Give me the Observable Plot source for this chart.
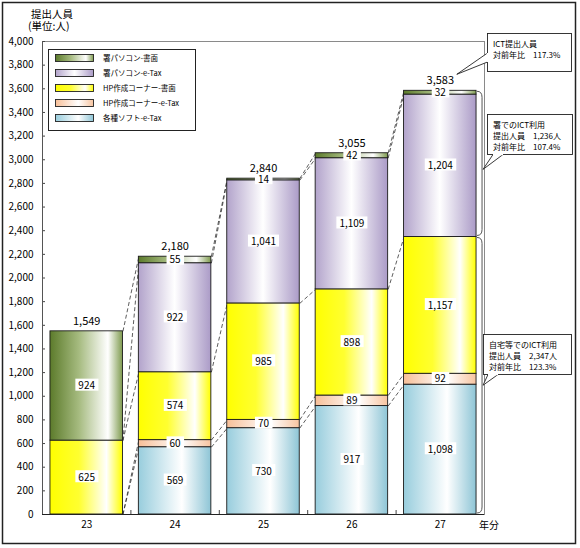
<!DOCTYPE html>
<html><head><meta charset="utf-8">
<script src="https://cdn.jsdelivr.net/npm/d3@7"></script>
<script src="https://cdn.jsdelivr.net/npm/@observablehq/plot@0.6"></script>
<style>
body{margin:0;background:#fff;}
#chart svg{display:block;}
</style></head><body><div id="chart"></div>
<script>
// ---- data ----
const years = [23, 24, 25, 26, 27];
const seriesNames = ["各種ソフト-e-Tax", "HP作成コーナー-e-Tax", "HP作成コーナー-書面", "署パソコン-e-Tax", "署パソコン-書面"];
const softETax  = [0, 569, 730, 917, 1098];
const hpETax    = [0, 60, 70, 89, 92];
const hpShomen  = [625, 574, 985, 898, 1157];
const shoETax   = [0, 922, 1041, 1109, 1204];
const shoShomen = [924, 55, 14, 42, 32];
const totals    = [1549, 2180, 2840, 3055, 3583];
const yTicks = d3.range(0, 4001, 200);
const yTitle = ["提出人員", "(単位:人)"];
const xUnit = "年分";
const callout1 = ["ICT提出人員", "対前年比　117.3%"];
const callout2 = ["署でのICT利用", "提出人員　1,236人", "対前年比　107.4%"];
const callout3 = ["自宅等でのICT利用", "提出人員　2,347人", "対前年比　123.3%"];

// ---- build tables ----
const FONT = "'Noto Sans CJK JP', 'Noto Sans', sans-serif";
const fmt = d3.format(",");
const barHalf = 0.41;
const seriesValues = [softETax, hpETax, hpShomen, shoETax, shoShomen];
const rows = [];
years.forEach((yr, i) => {
  let cum = 0;
  seriesNames.forEach((s, si) => {
    const v = seriesValues[si][i];
    rows.push({year: yr, series: s, si, value: v, y1: cum, y2: cum + v});
    cum += v;
  });
});
const links = [];
seriesNames.forEach((s, si) => {
  for (let i = 0; i < years.length - 1; i++) {
    const a = rows.find(r => r.year === years[i] && r.si === si);
    const b = rows.find(r => r.year === years[i + 1] && r.si === si);
    links.push({x1: years[i] + barHalf, x2: years[i + 1] - barHalf, y1: a.y2, y2: b.y2});
  }
});
const separators = years.slice(0, -1).map(y => y + 0.5);
const nz = rows.filter(r => r.value > 0);

const plot = Plot.plot({
  width: 580, height: 548,
  marginLeft: 42, marginRight: 96, marginTop: 41, marginBottom: 34,
  style: {fontFamily: FONT, fontSize: "10px", color: "#000", background: "#fff"},
  x: {domain: [22.5, 27.5], axis: null},
  y: {domain: [0, 4000], axis: null},
  color: {domain: seriesNames, range: seriesNames.map((_, i) => `url(#grad${i})`)},
  marks: [
    Plot.frame({stroke: "#8a8a8a"}),
    Plot.axisY(yTicks, {tickSize: 0, tickPadding: 9, tickFormat: fmt, fontSize: 10}),
    Plot.tickY(yTicks, {y: d => d, insetRight: 439, stroke: "#444"}),
    Plot.axisX(years, {tickSize: 0, tickPadding: 6, tickFormat: d => String(d), fontSize: 10}),
    Plot.tickX(separators, {x: d => d, insetTop: 469, stroke: "#444"}),
    Plot.link(links, {x1: "x1", x2: "x2", y1: "y1", y2: "y2", stroke: "#333", strokeWidth: 0.8, strokeDasharray: "4,2.5"}),
    Plot.rect(nz, {x1: d => d.year - barHalf, x2: d => d.year + barHalf, y1: "y1", y2: "y2", fill: "series", stroke: "#1a1a1a", strokeWidth: 0.9}),
    Plot.ruleY([0], {stroke: "#222"}),
    Plot.ruleX([22.5], {stroke: "#555"}),
    Plot.text(nz, {x: "year", y: d => (d.y1 + d.y2) / 2, text: d => fmt(d.value), fontSize: 10, fill: "#000", className: "seglabel"}),
    Plot.text(years, {x: d => d, y: (d, i) => totals[i], dy: -10, text: (d, i) => fmt(totals[i]), fontSize: 11, fill: "#000"})
  ]
});
document.getElementById("chart").appendChild(plot);

const svg = d3.select(plot);
const xs = plot.scale("x"), ys = plot.scale("y");
const X = v => xs.apply(v), Y = v => ys.apply(v);

// gradients
const gradStops = [
  [[0, "#98cddd"], [0.6, "#ffffff"], [1, "#8ec5d6"]],
  [[0, "#f7bf98"], [0.6, "#ffffff"], [1, "#f7c4a0"]],
  [[0, "#ffff00"], [0.4, "#ffff30"], [0.78, "#ffffff"], [1, "#ffff00"]],
  [[0, "#b2a3cb"], [0.5, "#ffffff"], [1, "#ab9bc7"]],
  [[0, "#5c7b2b"], [0.4, "#a6bb80"], [0.8, "#ffffff"], [1, "#7f9b4f"]]
];
const defs = svg.insert("defs", ":first-child");
gradStops.forEach((stops, i) => {
  const g = defs.append("linearGradient").attr("id", `grad${i}`).attr("x1", 0).attr("x2", 1).attr("y1", 0).attr("y2", 0);
  stops.forEach(([o, c]) => g.append("stop").attr("offset", o).attr("stop-color", c));
});

// white boxes behind segment labels
svg.selectAll("g.seglabel text").each(function() {
  const b = this.getBBox();
  const r = document.createElementNS("http://www.w3.org/2000/svg", "rect");
  r.setAttribute("x", b.x - 3); r.setAttribute("y", b.y + 1.5);
  r.setAttribute("width", b.width + 6); r.setAttribute("height", b.height - 3);
  r.setAttribute("fill", "#fff");
  if (this.getAttribute("transform")) r.setAttribute("transform", this.getAttribute("transform"));
  this.parentNode.insertBefore(r, this);
});

const ann = svg.append("g").attr("font-family", FONT).attr("fill", "#000").attr("text-anchor", "start");

// y title
ann.append("text").attr("x", 31).attr("y", 18).attr("font-size", 10.5).text(yTitle[0]);
ann.append("text").attr("x", 28).attr("y", 30).attr("font-size", 10.5).text(yTitle[1]);
// x unit
ann.append("text").attr("x", 479).attr("y", 529).attr("font-size", 10).text(xUnit);

// legend
const leg = ann.append("g");
leg.append("rect").attr("x", 48.5).attr("y", 49.5).attr("width", 147).attr("height", 81).attr("fill", "#fff").attr("stroke", "#222");
[4, 3, 2, 1, 0].forEach((si, k) => {
  const yy = 58 + k * 15;
  leg.append("rect").attr("x", 55.5).attr("y", yy - 3.5).attr("width", 38).attr("height", 7).attr("fill", `url(#grad${si})`).attr("stroke", "#222").attr("stroke-width", 0.9);
  leg.append("text").attr("x", 103).attr("y", yy + 3).attr("font-size", 7.5).text(seriesNames[si]);
});

// brackets beside last bar
const xr = X(27 + barHalf);
function bracket(v1, v2) {
  const a = Y(v1) + 1, b = Y(v2) - 1, x0 = xr + 1, x1 = xr + 6;
  ann.append("path").attr("d", `M${x0},${a} Q${x1},${a} ${x1},${a + 6} L${x1},${b - 6} Q${x1},${b} ${x0},${b}`)
    .attr("fill", "none").attr("stroke", "#555").attr("stroke-width", 1);
}
bracket(totals[4], softETax[4] + hpETax[4] + hpShomen[4]);
bracket(softETax[4] + hpETax[4] + hpShomen[4], 0);

// callouts
function callout(bx, by, bw, bh, lines, tail) {
  const g = ann.append("g");
  g.append("path").attr("d", `M${tail[0][0]},${tail[0][1]} L${tail[2][0]},${tail[2][1]} L${tail[1][0]},${tail[1][1]}`)
    .attr("fill", "#fff").attr("stroke", "#222").attr("stroke-width", 0.9);
  g.append("rect").attr("x", bx + 0.5).attr("y", by + 0.5).attr("width", bw).attr("height", bh).attr("fill", "#fff").attr("stroke", "#222").attr("stroke-width", 0.9);
  g.append("line").attr("x1", tail[0][0]).attr("y1", tail[0][1]).attr("x2", tail[1][0]).attr("y2", tail[1][1]).attr("stroke", "#fff").attr("stroke-width", 1.5);
  lines.forEach((t, i) => g.append("text").attr("x", bx + 6).attr("y", by + 14 + i * 11).attr("font-size", 8).text(t));
}
const tip1 = [X(27) + 17, Y(totals[4]) - 16];
callout(487, 33, 84, 38, callout1, [[487.5, 53], [487.5, 62], tip1]);
const mid2 = (Y(totals[4]) + Y(softETax[4] + hpETax[4] + hpShomen[4])) / 2;
callout(487, 114, 85, 40, callout2, [[493, 154.5], [503, 154.5], [xr + 7, mid2 + 6]]);
const mid3 = (Y(softETax[4] + hpETax[4] + hpShomen[4]) + Y(0)) / 2;
callout(483, 334, 88, 40, callout3, [[488, 374.5], [498, 374.5], [xr + 7, mid3 + 10]]);

// outer border
svg.append("rect").attr("x", 2.5).attr("y", 2.5).attr("width", 573).attr("height", 541).attr("fill", "none").attr("stroke", "#222").attr("stroke-width", 1.5);
</script>
</body></html>
